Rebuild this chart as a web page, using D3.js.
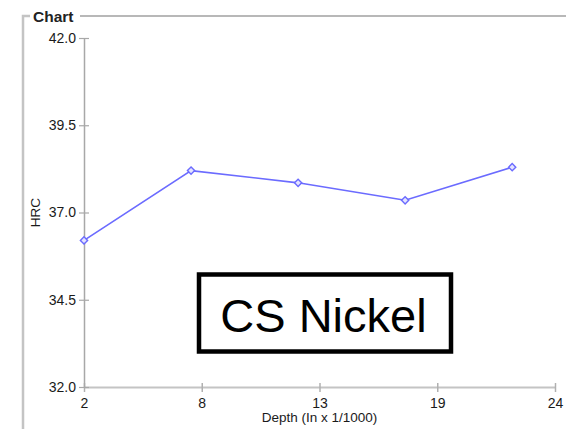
<!DOCTYPE html>
<html>
<head>
<meta charset="utf-8">
<script src="https://cdn.jsdelivr.net/npm/d3@7"></script>
<style>
  html, body { margin: 0; padding: 0; background: #fff; }
  svg { display: block; }
  text { font-family: "Liberation Sans", Arial, sans-serif; }
</style>
</head>
<body>
<svg id="chart" width="566" height="429"></svg>
<script>
const depths = [2, 7, 12, 17, 22];
const hrcValues = [36.2, 38.2, 37.85, 37.35, 38.3];
const xTickValues = [2, 7.5, 13, 18.5, 24];
const xTickLabels = ["2", "8", "13", "19", "24"];
const yTickValues = [32, 34.5, 37, 39.5, 42];
const yTickLabels = ["32.0", "34.5", "37.0", "39.5", "42.0"];
const chartTitle = "Chart";
const xTitle = "Depth (In x 1/1000)";
const yTitle = "HRC";
const annotation = "CS Nickel";

const svg = d3.select("#chart");

// fieldset-like frame
svg.append("path")
  .attr("d", "M30,16 H23 V429")
  .attr("fill", "none").attr("stroke", "#c4c4c4").attr("stroke-width", 2.5);
svg.append("line")
  .attr("x1", 80).attr("x2", 566).attr("y1", 16).attr("y2", 16)
  .attr("stroke", "#b8b8b8").attr("stroke-width", 2);
svg.append("text")
  .attr("x", 33).attr("y", 21.5)
  .attr("font-size", 15.5).attr("font-weight", "bold").attr("fill", "#222")
  .text(chartTitle);

const x = d3.scaleLinear().domain([2, 24]).range([84, 555]);
const y = d3.scaleLinear().domain([32, 42]).range([387, 38]);

// X axis
const xAxis = svg.append("g")
  .attr("transform", `translate(0,${y(32)})`)
  .call(d3.axisBottom(x).tickValues(xTickValues)
    .tickFormat((d, i) => xTickLabels[i]).tickSize(0).tickPadding(11));
xAxis.select(".domain").attr("stroke", "#c4c4c4").attr("stroke-width", 2);
xAxis.selectAll(".tick line").attr("y1", -4).attr("y2", 5)
  .attr("stroke", "#b0b0b0").attr("stroke-width", 1.5);
xAxis.selectAll(".tick text").attr("font-size", 14).attr("fill", "#1a1a1a")
  .attr("font-family", "Liberation Sans, Arial, sans-serif");

// Y axis
const yAxis = svg.append("g")
  .attr("transform", `translate(${x(2)},0)`)
  .call(d3.axisLeft(y).tickValues(yTickValues)
    .tickFormat((d, i) => yTickLabels[i]).tickSize(0).tickPadding(8));
yAxis.select(".domain").attr("stroke", "#a8a8a8").attr("stroke-width", 1.5);
yAxis.selectAll(".tick line").attr("x1", -5).attr("x2", 5)
  .attr("stroke", "#a8a8a8").attr("stroke-width", 1.2);
yAxis.selectAll(".tick text").attr("font-size", 14).attr("fill", "#1a1a1a")
  .attr("font-family", "Liberation Sans, Arial, sans-serif");

// Axis titles
svg.append("text")
  .attr("x", x(13)).attr("y", 422)
  .attr("text-anchor", "middle").attr("font-size", 13.5).attr("fill", "#1a1a1a")
  .text(xTitle);
svg.append("text")
  .attr("transform", `translate(40,${y(37)}) rotate(-90)`)
  .attr("text-anchor", "middle").attr("font-size", 13.5).attr("fill", "#1a1a1a")
  .text(yTitle);

// Line
const pts = depths.map((d, i) => [d, hrcValues[i]]);
svg.append("path")
  .datum(pts)
  .attr("fill", "none").attr("stroke", "#6b6bff").attr("stroke-width", 1.6)
  .attr("d", d3.line().x(d => x(d[0])).y(d => y(d[1])));

svg.selectAll("path.marker")
  .data(pts).enter().append("path")
  .attr("class", "marker")
  .attr("d", d3.symbol().type(d3.symbolSquare).size(26))
  .attr("transform", d => `translate(${x(d[0])},${y(d[1])}) rotate(45)`)
  .attr("fill", "#e4e4ff").attr("stroke", "#6b6bff").attr("stroke-width", 1.4);

// Annotation box
svg.append("rect")
  .attr("x", 199).attr("y", 274.5).attr("width", 252).attr("height", 77)
  .attr("fill", "#fff").attr("stroke", "#000").attr("stroke-width", 4.5);
svg.append("text")
  .attr("x", 323.5).attr("y", 331.5)
  .attr("text-anchor", "middle").attr("font-size", 47).attr("fill", "#000")
  .text(annotation);
</script>
</body>
</html>
